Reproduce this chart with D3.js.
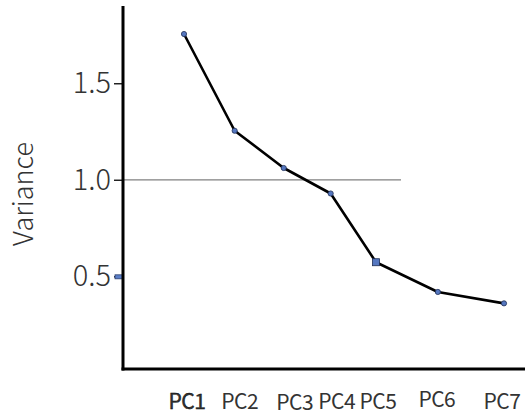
<!DOCTYPE html>
<html>
<head>
<meta charset="utf-8">
<script src="https://cdn.jsdelivr.net/npm/d3@7"></script>
<style>
  body { margin: 0; background: #fff; }
  text { font-family: "Noto Sans CJK JP", "Noto Sans", sans-serif; fill: #333; }
</style>
</head>
<body>
<div id="chart"></div>
<script>
var width = 525;
var height = 416;

// data
var components = ["PC1", "PC2", "PC3", "PC4", "PC5", "PC6", "PC7"];
var compPos = [1, 1.95, 2.87, 3.75, 4.6, 5.76, 7]; // spacing is uneven in the source
var variance = [1.755, 1.254, 1.061, 0.929, 0.573, 0.419, 0.36];
var yTicks = [0.5, 1.0, 1.5];
var cutoff = 1.0;

var x = d3.scaleLinear()
  .domain([1, 7])
  .range([184, 504]);

var y = d3.scaleLinear()
  .domain([0.02, 1.9])
  .range([369, 6]);

var svg = d3.select("#chart")
  .append("svg")
  .attr("width", width)
  .attr("height", height);

// reference line at variance = 1
svg.append("line")
  .attr("x1", 123)
  .attr("x2", 401)
  .attr("y1", y(cutoff))
  .attr("y2", y(cutoff))
  .attr("stroke", "#808080")
  .attr("stroke-width", 1.2);

// y axis
var yAxis = d3.axisLeft(y)
  .tickValues(yTicks)
  .tickSize(9)
  .tickPadding(3)
  .tickFormat(d3.format(".1f"));

var gy = svg.append("g")
  .attr("transform", "translate(123,0)")
  .call(yAxis);

gy.select(".domain").remove();
gy.selectAll(".tick line")
  .attr("stroke", "#222")
  .attr("stroke-width", 1.5);
gy.selectAll(".tick text")
  .attr("font-size", "29px")
  .attr("font-weight", 300)
  .attr("fill", "#333");

// the 0.5 tick is drawn as a small blue box
gy.selectAll(".tick")
  .filter(d => d == 0.5)
  .append("rect")
  .attr("x", -8)
  .attr("y", -2)
  .attr("width", 8)
  .attr("height", 4)
  .attr("fill", "#5b7fc8")
  .attr("stroke", "#2a3f6e")
  .attr("stroke-width", 0.8);

// axis lines
svg.append("line")
  .attr("x1", 123).attr("x2", 123)
  .attr("y1", y(1.9)).attr("y2", y(0.02) + 1.5)
  .attr("stroke", "#000")
  .attr("stroke-width", 3);

svg.append("line")
  .attr("x1", 121.5).attr("x2", width)
  .attr("y1", y(0.02)).attr("y2", y(0.02))
  .attr("stroke", "#000")
  .attr("stroke-width", 3);

svg.append("text")
  .attr("transform", "translate(33," + 194 + ") rotate(-90)")
  .attr("text-anchor", "middle")
  .attr("font-size", "27px")
  .attr("font-weight", 300)
  .attr("fill", "#333")
  .text("Variance");

// scree line
var pts = components.map((c, i) => ({ name: c, pos: compPos[i], v: variance[i] }));

var line = d3.line()
  .x(d => x(d.pos))
  .y(d => y(d.v));

svg.append("path")
  .datum(pts)
  .attr("d", line)
  .attr("fill", "none")
  .attr("stroke", "#000")
  .attr("stroke-width", 2.6)
  .attr("stroke-linejoin", "round");

svg.selectAll("circle.pt")
  .data(pts.filter(d => d.name != "PC5"))
  .enter()
  .append("circle")
  .attr("class", "pt")
  .attr("cx", d => x(d.pos))
  .attr("cy", d => y(d.v))
  .attr("r", 2.6)
  .attr("fill", "#5577c0")
  .attr("stroke", "#1f2f55")
  .attr("stroke-width", 0.8);

svg.selectAll("rect.pt")
  .data(pts.filter(d => d.name == "PC5"))
  .enter()
  .append("rect")
  .attr("class", "pt")
  .attr("x", d => x(d.pos) - 3.5)
  .attr("y", d => y(d.v) - 3.5)
  .attr("width", 7)
  .attr("height", 7)
  .attr("fill", "#5577c0")
  .attr("stroke", "#1f2f55")
  .attr("stroke-width", 0.8);

// category labels
var labelShift = { PC1: [3, 0], PC2: [5, 0], PC3: [11, 1], PC4: [6, 0], PC5: [2, 0], PC6: [-1, -2], PC7: [-2, 0] };

svg.selectAll("text.cat")
  .data(pts)
  .enter()
  .append("text")
  .attr("class", "cat")
  .attr("x", d => x(d.pos) + labelShift[d.name][0])
  .attr("y", d => 409 + labelShift[d.name][1])
  .attr("text-anchor", "middle")
  .attr("font-size", "21px")
  .attr("letter-spacing", "-0.5px")
  .attr("fill", d => d.name == "PC1" ? "#000" : "#444")
  .attr("stroke", d => d.name == "PC1" ? "#000" : "none")
  .attr("stroke-width", 0.4)
  .text(d => d.name);
</script>
</body>
</html>
